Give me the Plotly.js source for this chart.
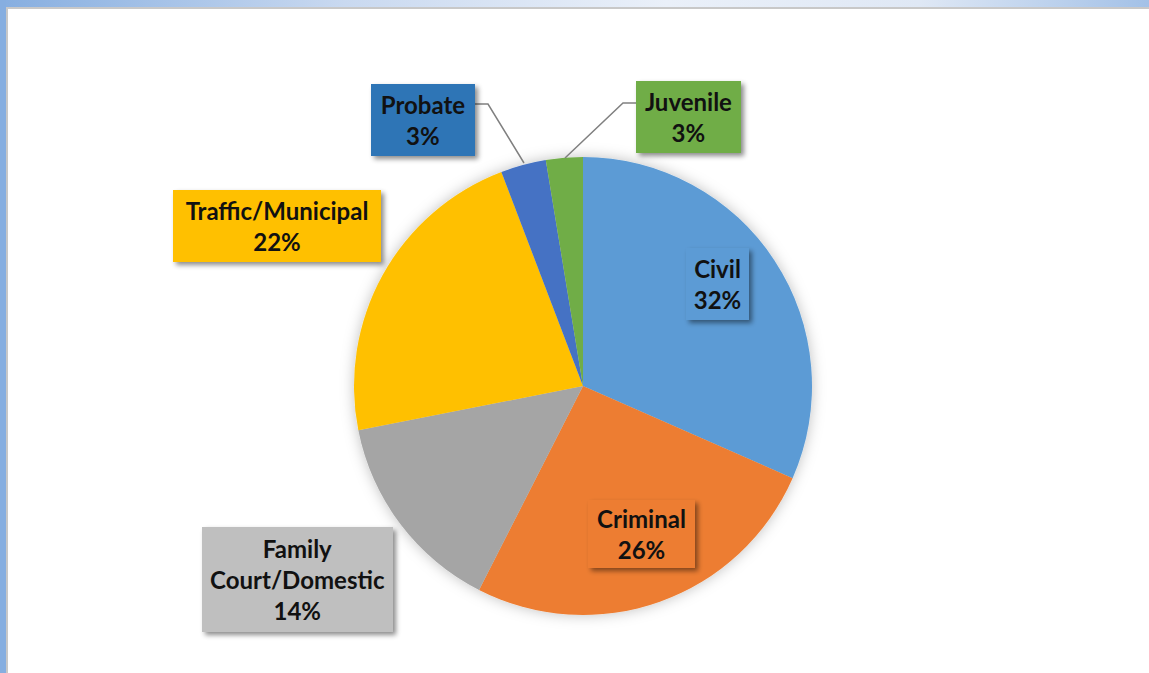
<!DOCTYPE html>
<html>
<head>
<meta charset="utf-8">
<script src="https://cdn.plot.ly/plotly-3.0.1.min.js"></script>
<style>
  html, body { margin: 0; padding: 0; width: 1149px; height: 673px; overflow: hidden; background: #fff; }
  #topbar { position: absolute; left: 0; top: 0; width: 1149px; height: 7px;
    background: linear-gradient(to right, #86aee0 0%, #c9d9f0 30%, #eaf0f9 58%, #dfe8f5 80%, #a3c1e7 100%); }
  #leftbar { position: absolute; left: 0; top: 0; width: 6px; height: 673px; background: #86aee0; }
  #frame { position: absolute; left: 6px; top: 7px; width: 1143px; height: 666px;
    border-top: 2px solid #c8c8c8; border-left: 2px solid #c8c8c8; background: #fff; box-sizing: border-box; }
  #chart { position: absolute; left: 0; top: 0; width: 1149px; height: 673px; }
</style>
</head>
<body>
<div id="topbar"></div>
<div id="leftbar"></div>
<div id="frame"></div>
<div id="chart"></div>
<script>
// ---- data ----
const categories = ['Civil', 'Criminal', 'Family Court/Domestic', 'Traffic/Municipal', 'Probate', 'Juvenile'];
const labelText  = ['Civil', 'Criminal', 'Family<br>Court/Domestic', 'Traffic/Municipal', 'Probate', 'Juvenile'];
const shares     = [31.6, 25.9, 14.4, 22.3, 3.2, 2.6];
const sliceColors = ['#5b9bd5', '#ed7d31', '#a5a5a5', '#ffc000', '#4472c4', '#70ad47'];
const boxColors   = ['#5b9bd5', '#ed7d31', '#bfbfbf', '#ffc000', '#2e75b6', '#70ad47'];

// ---- layout helpers (pixel -> paper) ----
const W = 1149, H = 673;
const px = x => x / W;
const py = y => 1 - y / H;

// label box centres / sizes (pixels)
const boxes = [
  {cx: 717.5, cy: 284, w: 63, h: 72},
  {cx: 641.5, cy: 534, w: 107, h: 68},
  {cx: 297.5, cy: 579.5, w: 191, h: 105},
  {cx: 277, cy: 226, w: 208, h: 72},
  {cx: 423, cy: 120, w: 104, h: 72},
  {cx: 688.5, cy: 117, w: 105, h: 72}
];

const total = shares.reduce((a, b) => a + b, 0);
const annotations = categories.map((c, i) => {
  const pct = Math.round(shares[i] / total * 100);
  const lines = labelText[i].split('<br>').map(s => '<b>' + s + '</b>').join('<br>');
  const b = boxes[i];
  return {
    xref: 'paper', yref: 'paper', x: px(b.cx), y: py(b.cy),
    xanchor: 'center', yanchor: 'middle',
    text: lines + '<br><b>' + pct + '%</b>',
    showarrow: false, align: 'center',
    bgcolor: boxColors[i], borderwidth: 0, borderpad: 0,
    width: b.w, height: b.h,
    font: {family: 'Lato, sans-serif', size: 24, color: '#111'}
  };
});

const leader = (pts) => ({
  type: 'path', xref: 'paper', yref: 'paper',
  path: 'M ' + pts.map(p => px(p[0]) + ',' + py(p[1])).join(' L '),
  line: {color: '#808080', width: 1.5}
});

const shapes = [
  leader([[475, 104], [488, 104], [524, 163]]),
  leader([[636, 103], [623, 103], [565, 158]])
];

const trace = {
  type: 'pie',
  labels: categories,
  values: shares,
  sort: false,
  direction: 'clockwise',
  rotation: 0,
  textinfo: 'none',
  hoverinfo: 'label+percent',
  marker: {colors: sliceColors, line: {width: 0}},
  domain: {x: [px(354), px(812)], y: [py(615), py(157)]},
  showlegend: false
};

const layout = {
  width: W, height: H,
  margin: {l: 0, r: 0, t: 0, b: 0},
  paper_bgcolor: 'rgba(0,0,0,0)',
  plot_bgcolor: 'rgba(0,0,0,0)',
  showlegend: false,
  annotations: annotations,
  shapes: shapes
};

Plotly.newPlot('chart', [trace], layout, {displayModeBar: false, staticPlot: true}).then(gd => {
  const ns = 'http://www.w3.org/2000/svg';
  const svg = gd.querySelector('svg.main-svg');
  let defs = svg.querySelector('defs');
  if (!defs) { defs = document.createElementNS(ns, 'defs'); svg.insertBefore(defs, svg.firstChild); }
  defs.insertAdjacentHTML('beforeend',
    '<filter id="pieShadow" x="-20%" y="-20%" width="140%" height="140%">' +
      '<feDropShadow dx="0" dy="0" stdDeviation="7" flood-color="#000" flood-opacity="0.25"/>' +
    '</filter>' +
    '<filter id="boxShadow" x="-20%" y="-20%" width="150%" height="150%">' +
      '<feDropShadow dx="3" dy="3" stdDeviation="2.5" flood-color="#000" flood-opacity="0.45"/>' +
    '</filter>');
  gd.querySelectorAll('g.pielayer g.trace').forEach(g => g.setAttribute('filter', 'url(#pieShadow)'));
  document.querySelectorAll('#chart g.annotation-text-g rect.bg').forEach(r => r.setAttribute('filter', 'url(#boxShadow)'));
});
</script>
</body>
</html>
